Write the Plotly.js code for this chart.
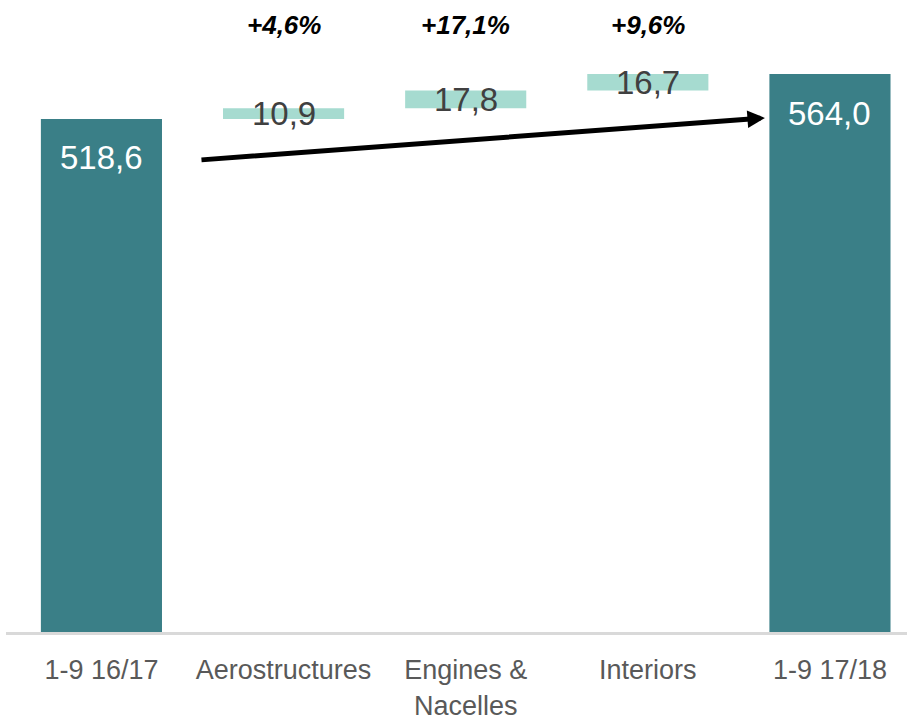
<!DOCTYPE html>
<html>
<head>
<meta charset="utf-8">
<script src="https://cdn.plot.ly/plotly-3.0.1.min.js"></script>
<style>html,body{margin:0;padding:0;background:#fff;}#chart{width:907px;height:721px;}</style>
</head>
<body>
<div id="chart"></div>
<script>
// Data
const categories = ["1-9 16/17", "Aerostructures", "Engines &<br>Nacelles", "Interiors", "1-9 17/18"];
const measures = ["absolute", "relative", "relative", "relative", "total"];
const values = [518.6, 10.9, 17.8, 16.7, 564.0];
const valueLabels = ["518,6", "10,9", "17,8", "16,7", "564,0"];
const growthLabels = ["", "+4,6%", "+17,1%", "+9,6%", ""];

const FONT = "'Liberation Sans', Arial, sans-serif";
const DARK = "#3A7F87";
const MINT = "#A6DBD0";

const trace = {
  type: "waterfall",
  x: categories,
  y: values,
  measure: measures,
  connector: {visible: false},
  totals: {marker: {color: DARK}},
  increasing: {marker: {color: MINT}},
  decreasing: {marker: {color: MINT}},
  textinfo: "none",
  hoverinfo: "skip"
};

// labels computed from data
const annotations = [];
let running = 0;
for (let i = 0; i < categories.length; i++) {
  if (measures[i] === "relative") {
    const mid = running + values[i] / 2;
    running += values[i];
    annotations.push({x: categories[i], y: mid, xref: "x", yref: "y", text: valueLabels[i],
      showarrow: false, yanchor: "middle", yshift: 0,
      font: {family: FONT, size: 33, color: "#404040"}});
  } else {
    running = values[i];
    annotations.push({x: categories[i], y: values[i], xref: "x", yref: "y", text: valueLabels[i],
      showarrow: false, yanchor: "middle", yshift: -39,
      font: {family: FONT, size: 33, color: "#FFFFFF"}});
  }
  if (growthLabels[i]) {
    annotations.push({x: categories[i], y: 0.96, xref: "x", yref: "paper", text: "<b><i>" + growthLabels[i] + "</i></b>",
      showarrow: false, yanchor: "middle",
      font: {family: FONT, size: 26, color: "#000000"}});
  }
}
// trend arrow from start total towards end total
annotations.push({
  x: 3.643, y: 519.6, ax: 0.541, ay: 477.1,
  xref: "x", yref: "y", axref: "x", ayref: "y",
  showarrow: true, arrowhead: 2, arrowwidth: 5, arrowsize: 0.7, arrowcolor: "#000000", text: ""
});

const layout = {
  width: 907, height: 721,
  margin: {l: 6, r: 0, t: 0, b: 89},
  paper_bgcolor: "#FFFFFF", plot_bgcolor: "#FFFFFF",
  showlegend: false,
  waterfallgap: 0.335,
  xaxis: {
    type: "category",
    range: [-0.524, 4.423],
    showline: true, linecolor: "#D9D9D9", linewidth: 3,
    ticks: "outside", ticklen: 12, tickcolor: "rgba(0,0,0,0)",
    showgrid: false, zeroline: false,
    tickfont: {family: FONT, size: 27, color: "#595959"}
  },
  yaxis: {
    range: [0, 638.8], visible: false, showgrid: false, zeroline: false
  },
  annotations: annotations
};

Plotly.newPlot("chart", [trace], layout, {staticPlot: true, displayModeBar: false});
</script>
</body>
</html>
